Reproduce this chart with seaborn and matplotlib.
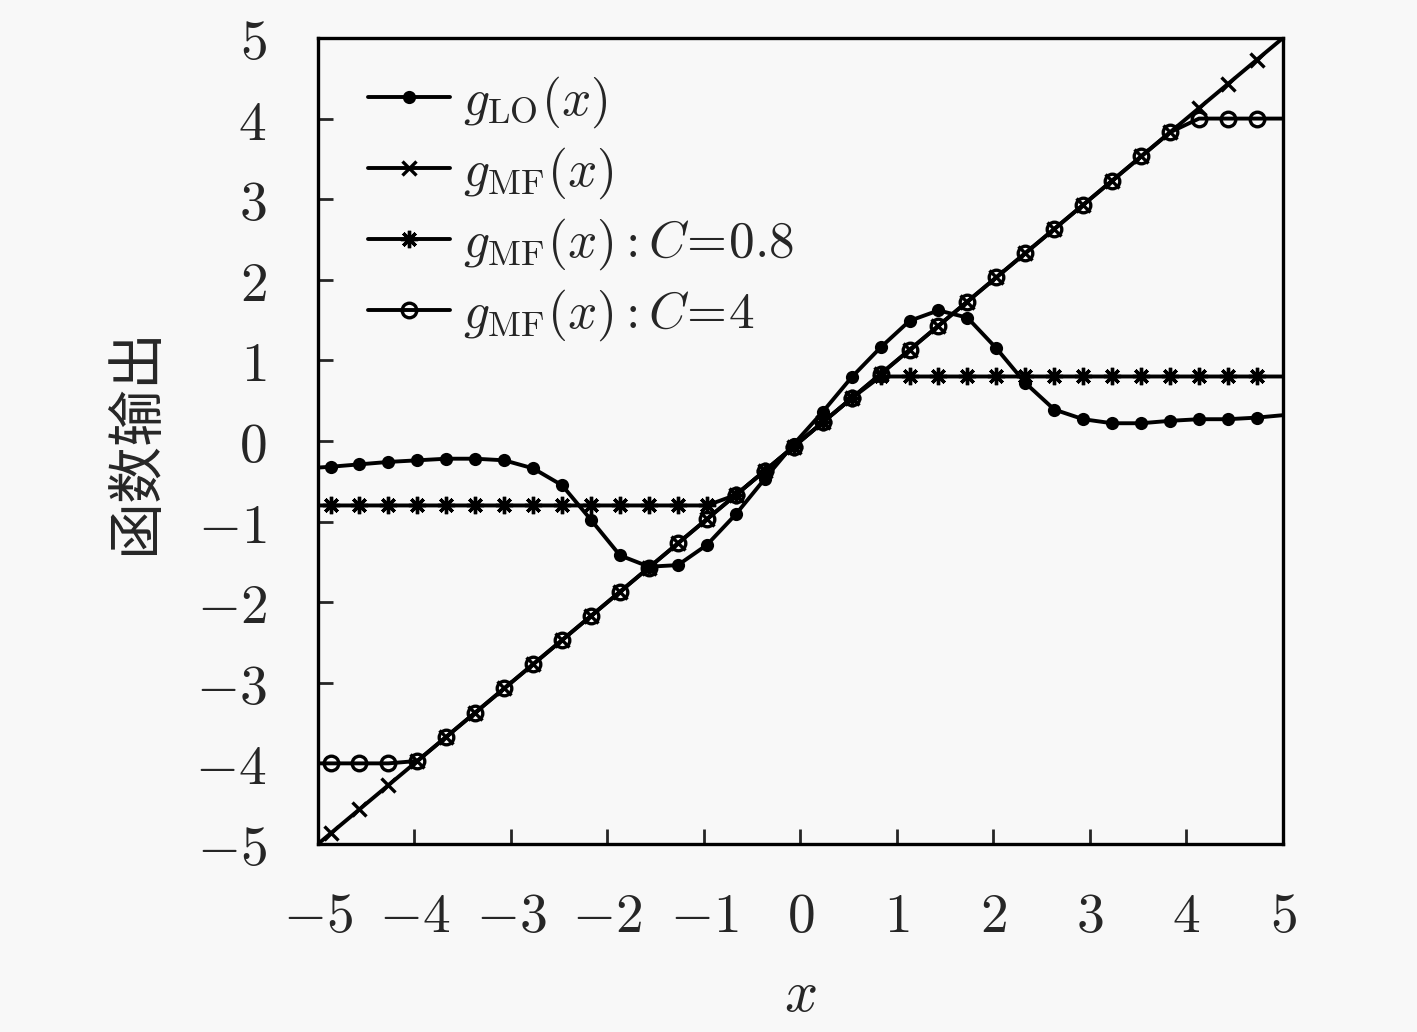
import matplotlib
matplotlib.use('Agg')
import matplotlib.pyplot as plt
import seaborn as sns
from matplotlib.ticker import FixedLocator, FuncFormatter

# x 坐标：两端点 + 33 个标记点
x_pts = [-5, -4.87, -4.57, -4.27, -3.97, -3.67, -3.37, -3.07, -2.77, -2.47,
         -2.17, -1.87, -1.57, -1.27, -0.97, -0.67, -0.37, -0.07, 0.23, 0.53,
         0.83, 1.13, 1.43, 1.73, 2.03, 2.33, 2.63, 2.93, 3.23, 3.53,
         3.83, 4.13, 4.43, 4.73, 5]

g_lo = [-0.33, -0.32, -0.29, -0.26, -0.24, -0.22, -0.22, -0.24, -0.34, -0.55,
        -0.98, -1.42, -1.56, -1.54, -1.29, -0.91, -0.47, -0.04, 0.36, 0.79,
        1.16, 1.49, 1.62, 1.53, 1.15, 0.72, 0.39, 0.27, 0.22, 0.22,
        0.25, 0.27, 0.27, 0.29, 0.32]

g_mf = [-5, -4.87, -4.57, -4.27, -3.97, -3.67, -3.37, -3.07, -2.77, -2.47,
        -2.17, -1.87, -1.57, -1.27, -0.97, -0.67, -0.37, -0.07, 0.23, 0.53,
        0.83, 1.13, 1.43, 1.73, 2.03, 2.33, 2.63, 2.93, 3.23, 3.53,
        3.83, 4.13, 4.43, 4.73, 5]

g_mf_c08 = [-0.8, -0.8, -0.8, -0.8, -0.8, -0.8, -0.8, -0.8, -0.8, -0.8,
            -0.8, -0.8, -0.8, -0.8, -0.8, -0.67, -0.37, -0.07, 0.23, 0.53,
            0.8, 0.8, 0.8, 0.8, 0.8, 0.8, 0.8, 0.8, 0.8, 0.8,
            0.8, 0.8, 0.8, 0.8, 0.8]

g_mf_c4 = [-4, -4, -4, -4, -3.97, -3.67, -3.37, -3.07, -2.77, -2.47,
           -2.17, -1.87, -1.57, -1.27, -0.97, -0.67, -0.37, -0.07, 0.23, 0.53,
           0.83, 1.13, 1.43, 1.73, 2.03, 2.33, 2.63, 2.93, 3.23, 3.53,
           3.83, 4, 4, 4, 4]

labels = [r'$g_{\mathrm{LO}}(x)$', r'$g_{\mathrm{MF}}(x)$',
          r'$g_{\mathrm{MF}}(x):C\!=\!0.8$', r'$g_{\mathrm{MF}}(x):C\!=\!4$']
ticks = [-5, -4, -3, -2, -1, 0, 1, 2, 3, 4, 5]

sns.set_style('ticks')
plt.rcParams['font.family'] = ['DejaVu Sans']
plt.rcParams['mathtext.fontset'] = 'cm'

bg = '#f8f8f8'
fig = plt.figure(figsize=(14.17, 10.32), dpi=100, facecolor=bg)
ax = fig.add_axes([0.2244, 0.1822, 0.681, 0.781])
ax.set_facecolor(bg)

mk_idx = list(range(1, len(x_pts) - 1))
common = dict(color='black', linewidth=2.8, linestyle='-', markevery=mk_idx,
              markeredgecolor='black', ax=ax)

sns.lineplot(x=x_pts, y=g_lo, marker='o', markersize=9.5, markeredgewidth=0,
             label=labels[0], **common)
sns.lineplot(x=x_pts, y=g_mf, marker='x', markersize=10.5, markeredgewidth=2.4,
             label=labels[1], **common)
sns.lineplot(x=x_pts, y=g_mf_c08, marker=(8, 2, 0), markersize=12.5, markeredgewidth=2.4,
             label=labels[2], **common)
sns.lineplot(x=x_pts, y=g_mf_c4, marker='o', markersize=10.5, markeredgewidth=2.4,
             markerfacecolor='none', label=labels[3], **common)

ax.set_xlim(-5, 5)
ax.set_ylim(-5, 5)
ax.xaxis.set_major_locator(FixedLocator(ticks))
ax.yaxis.set_major_locator(FixedLocator(ticks))
fmt = FuncFormatter(lambda v, p: r'$%d$' % v)
ax.xaxis.set_major_formatter(fmt)
ax.yaxis.set_major_formatter(fmt)
ax.tick_params(direction='in', length=11, width=2, labelsize=40,
               top=False, right=False)
ax.tick_params(axis='x', pad=33)
ax.tick_params(axis='y', pad=37)

for s in ax.spines.values():
    s.set_visible(True)
    s.set_linewidth(2.4)
    s.set_color('black')

ax.set_xlabel(r'$x$', fontsize=42, labelpad=16)
ax.set_ylabel('函数输出', fontsize=41, labelpad=22,
              family=['Noto Sans CJK SC', 'DejaVu Sans'])

ax.legend(loc='upper left', bbox_to_anchor=(0.052, 0.955), frameon=False,
          fontsize=37, borderpad=0, borderaxespad=0, handlelength=1.6,
          handletextpad=0.25, labelspacing=0.3)

fig.savefig('out.png', dpi=100, facecolor=bg)
